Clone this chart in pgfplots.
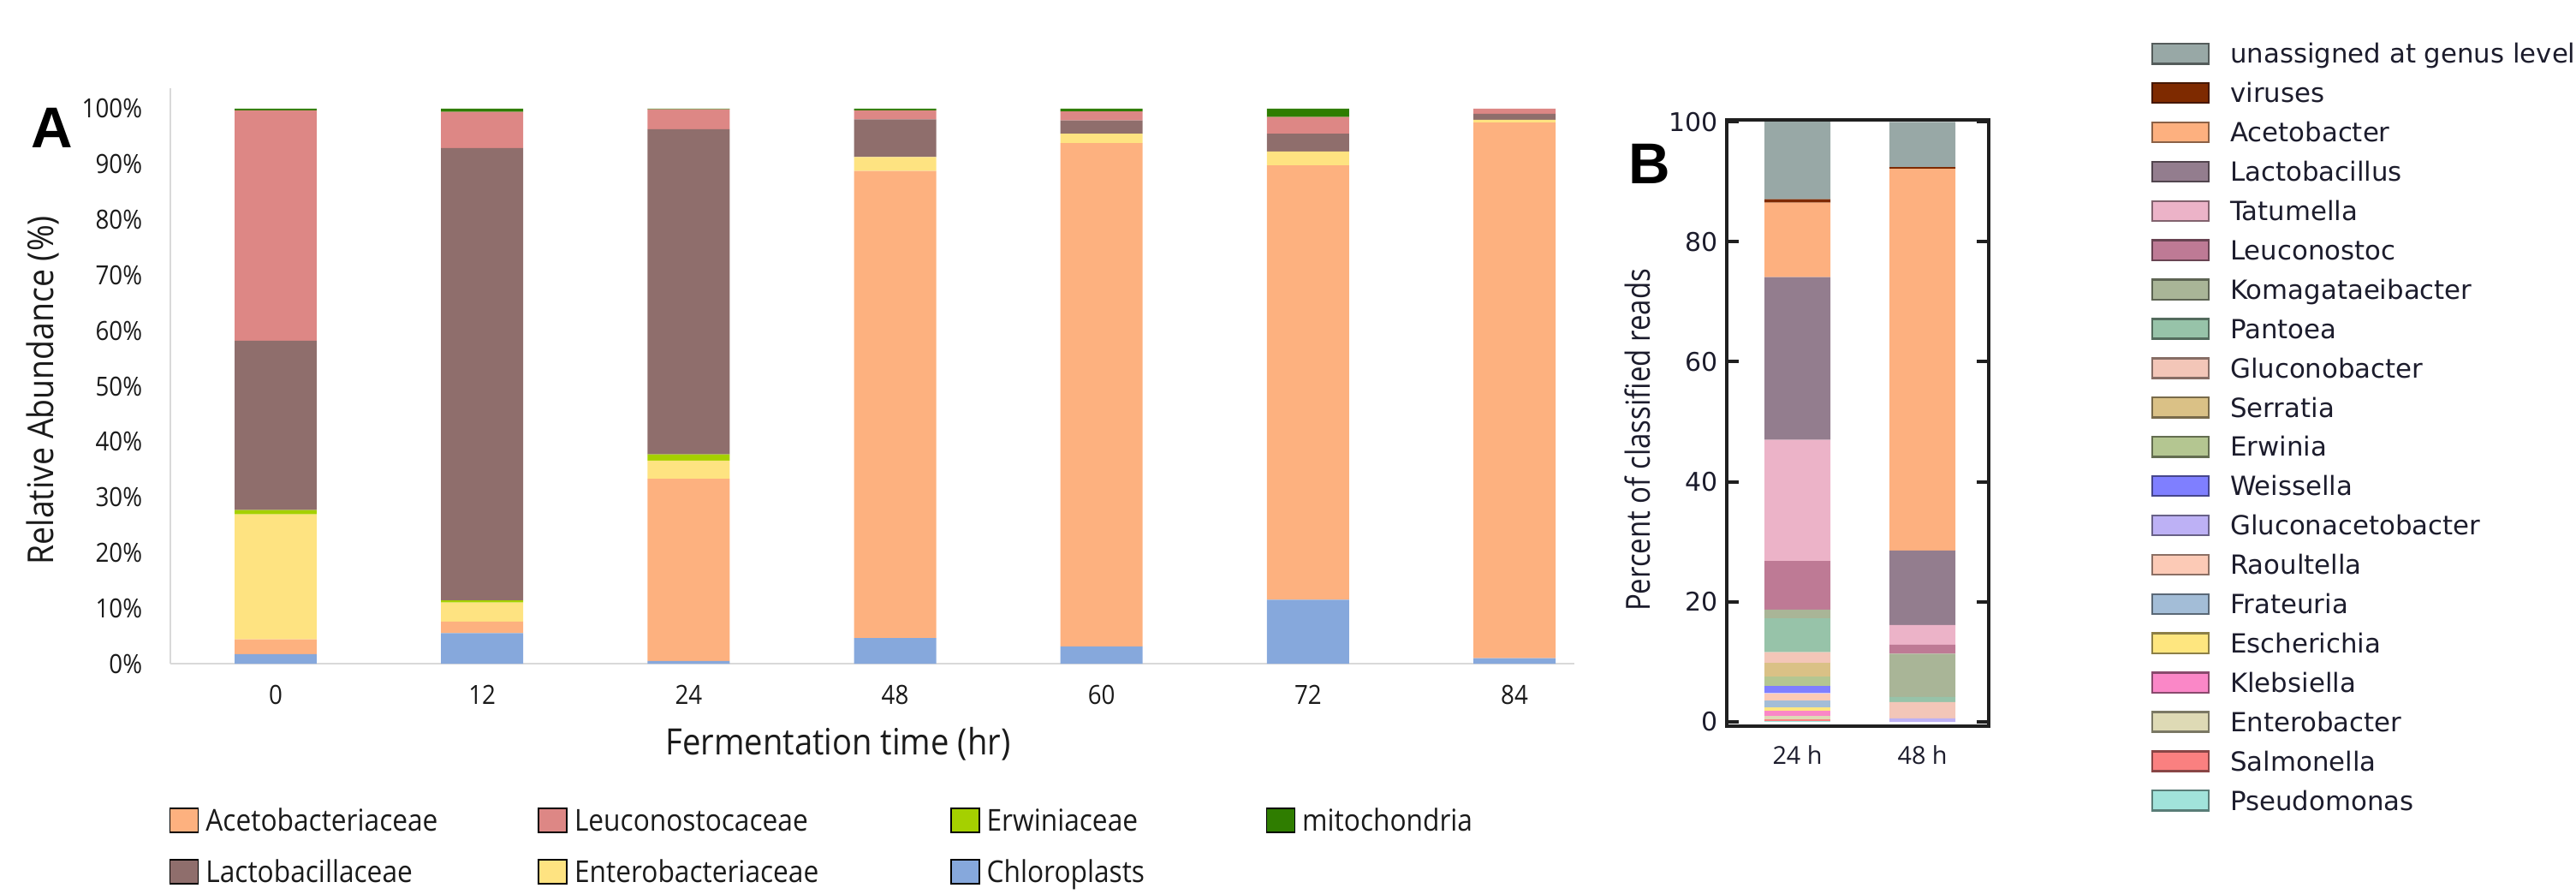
\documentclass[border=0pt]{standalone}
\usepackage{fontspec}
\usepackage{pgfplots}
\pgfplotsset{compat=1.18}
\setmainfont{Open Sans}
\newfontfamily\afont{Open Sans}[FakeStretch=0.9]
\newfontfamily\bbfont{DejaVu Sans}
\newfontfamily\labfont{Liberation Sans}
\newfontfamily\bylab{Open Sans}[FakeStretch=0.85]

% panel A colours
\definecolor{cAce}{HTML}{FDB17F}
\definecolor{cLac}{HTML}{8F6E6C}
\definecolor{cLeu}{HTML}{DD8785}
\definecolor{cEnt}{HTML}{FEE381}
\definecolor{cErw}{HTML}{A5D000}
\definecolor{cChl}{HTML}{86A8DC}
\definecolor{cMit}{HTML}{2F7D00}
% panel B colours
\definecolor{bUn}{HTML}{98A8A6}
\definecolor{bVir}{HTML}{7E2A00}
\definecolor{bAce}{HTML}{FDB07F}
\definecolor{bLac}{HTML}{937D8E}
\definecolor{bTat}{HTML}{ECB3C8}
\definecolor{bLeu}{HTML}{BE7A95}
\definecolor{bKom}{HTML}{A9B597}
\definecolor{bPan}{HTML}{97C3A9}
\definecolor{bGlu}{HTML}{F3C6B8}
\definecolor{bSer}{HTML}{DAC186}
\definecolor{bErw}{HTML}{B4C691}
\definecolor{bWei}{HTML}{7F7FFF}
\definecolor{bGla}{HTML}{BDB1F5}
\definecolor{bRao}{HTML}{FCCAB6}
\definecolor{bFra}{HTML}{A3BDD7}
\definecolor{bEsc}{HTML}{FEE67F}
\definecolor{bKle}{HTML}{FA87C7}
\definecolor{bEnB}{HTML}{DEDAB5}
\definecolor{bSal}{HTML}{FA8080}
\definecolor{bPse}{HTML}{A1E3DB}
\definecolor{atext}{HTML}{1A1A1A}
\definecolor{btext}{HTML}{1C1C2C}

\newcommand{\afontleg}{\afont\fontsize{8.8}{10}\selectfont}
\newcommand{\bfontleg}{\bbfont\fontsize{7.7}{9}\selectfont}

\begin{document}
\begin{tikzpicture}
\useasboundingbox (0pt,0pt) rectangle (752.25pt,260.75pt);

% ---------------- Panel A ----------------
\begin{axis}[
  at={(49.75pt,67pt)}, anchor=south west,
  scale only axis, width=410pt, height=168pt,
  ybar stacked, bar width=0.398,
  xmin=-0.51, xmax=6.29, ymin=0, ymax=103.7,
  axis x line*=bottom, axis y line*=left,
  axis line style={draw=black!15, line width=0.6pt, -},
  major tick length=0pt, tick style={draw=none},
  xtick={0,...,6}, xticklabels={0,12,24,48,60,72,84},
  ytick={0,10,...,100},
  yticklabel={\pgfmathprintnumber{\tick}\%},
  /pgf/number format/assume math mode=true,
  ticklabel style={font=\afont\fontsize{7.7}{9}\selectfont, text=atext},
  yticklabel style={xshift=-4.7pt},
  xticklabel style={yshift=-2.7pt},
  xlabel={Fermentation time (hr)},
  xlabel style={at={(axis description cs:0.4756,-0.140)}, anchor=center,
    font=\afont\fontsize{10.6}{12}\selectfont, text=atext},
  ylabel={Relative Abundance (\%)},
  ylabel style={at={(axis description cs:-0.0909,0.475)}, anchor=center,
    font=\afont\fontsize{10.4}{12}\selectfont, text=atext},
  legend columns=4,
  legend cell align=left,
  legend image code/.code={\fill[#1] (0pt,-3.5pt) rectangle (8.25pt,3.5pt);},
  legend style={at={(axis description cs:-0.0012,-0.2420)}, anchor=north west,
    draw=none, fill=none, inner sep=0pt, column sep=0pt, row sep=5.28pt,
    font=\afontleg, text=atext,
    nodes={font=\afontleg, text=atext, inner ysep=0pt, inner xsep=2pt,
      text height=8pt, text depth=1.72pt, anchor=west}},
]
\addplot[fill=cChl, draw=none, forget plot] coordinates {(0,1.7) (1,5.5) (2,0.5) (3,4.6) (4,3.1) (5,11.5) (6,1.0)};
\addplot[fill=cAce, draw=none, forget plot] coordinates {(0,2.7) (1,2.1) (2,32.8) (3,84.2) (4,90.7) (5,78.3) (6,96.5)};
\addplot[fill=cEnt, draw=none, forget plot] coordinates {(0,22.5) (1,3.4) (2,3.3) (3,2.5) (4,1.7) (5,2.5) (6,0.5)};
\addplot[fill=cErw, draw=none, forget plot] coordinates {(0,0.8) (1,0.4) (2,1.1) (3,0) (4,0) (5,0) (6,0)};
\addplot[fill=cLac, draw=none, forget plot] coordinates {(0,30.5) (1,81.5) (2,58.6) (3,6.8) (4,2.4) (5,3.2) (6,1.1)};
\addplot[fill=cLeu, draw=none, forget plot] coordinates {(0,41.5) (1,6.55) (2,3.6) (3,1.6) (4,1.6) (5,3.0) (6,0.9)};
\addplot[fill=cMit, draw=none, forget plot] coordinates {(0,0.3) (1,0.55) (2,0.1) (3,0.3) (4,0.5) (5,1.5) (6,0)};
\addlegendimage{fill=cAce}\addlegendentry{\makebox[95pt][l]{Acetobacteriaceae}}
\addlegendimage{fill=cLeu}\addlegendentry{\makebox[107.75pt][l]{Leuconostocaceae}}
\addlegendimage{fill=cErw}\addlegendentry{\makebox[79.5pt][l]{Erwiniaceae}}
\addlegendimage{fill=cMit}\addlegendentry{mitochondria}
\addlegendimage{fill=cLac}\addlegendentry{\makebox[95pt][l]{Lactobacillaceae}}
\addlegendimage{fill=cEnt}\addlegendentry{\makebox[107.75pt][l]{Enterobacteriaceae}}
\addlegendimage{fill=cChl}\addlegendentry{\makebox[79.5pt][l]{Chloroplasts}}
\end{axis}

% ---------------- Panel B ----------------
\begin{axis}[
  at={(504.25pt,48.75pt)}, anchor=south west,
  scale only axis, width=76.5pt, height=177pt,
  ybar stacked, bar width=0.527,
  xmin=-0.565, xmax=1.53, ymin=-0.71, ymax=100.3,
  axis line style={line width=1pt, draw=black!88},
  tick align=inside, ytick pos=both, major tick length=3.5pt,
  ytick style={line width=1pt, draw=black!88},
  xtick style={draw=none},
  xtick={0,1}, xticklabels={24 h,48 h},
  ytick={0,20,...,100},
  /pgf/number format/assume math mode=true,
  yticklabel style={font=\bbfont\fontsize{7.5}{9}\selectfont, text=btext, xshift=1pt},
  xticklabel style={font=\fontsize{7.2}{9}\selectfont, text=btext, yshift=-2pt},
  ylabel={Percent of classified reads},
  ylabel style={at={(axis description cs:-0.340,0.472)}, anchor=center,
    font=\bylab\fontsize{9.7}{11}\selectfont, text=btext},
  legend cell align=left,
  legend image code/.code={\draw[#1] (0pt,-2.9pt) rectangle (16.5pt,2.9pt);},
  legend style={at={(axis description cs:1.6176,1.1328)}, anchor=north west,
    draw=none, fill=none, inner sep=0pt, column sep=0pt, row sep=3.475pt,
    font=\bfontleg, text=btext,
    nodes={font=\bfontleg, text=btext, inner ysep=0pt, inner xsep=6pt,
      text height=6.8pt, text depth=1.2pt, anchor=west}},
]
\addplot[fill=bPse, draw=none, forget plot] coordinates {(0,0.15) (1,0)};
\addplot[fill=bSal, draw=none, forget plot] coordinates {(0,0.3) (1,0)};
\addplot[fill=bEnB, draw=none, forget plot] coordinates {(0,0.55) (1,0)};
\addplot[fill=bKle, draw=none, forget plot] coordinates {(0,0.8) (1,0)};
\addplot[fill=bEsc, draw=none, forget plot] coordinates {(0,0.65) (1,0)};
\addplot[fill=bFra, draw=none, forget plot] coordinates {(0,1.1) (1,0)};
\addplot[fill=bRao, draw=none, forget plot] coordinates {(0,1.15) (1,0)};
\addplot[fill=bGla, draw=none, forget plot] coordinates {(0,0.1) (1,0.6)};
\addplot[fill=bWei, draw=none, forget plot] coordinates {(0,1.25) (1,0)};
\addplot[fill=bErw, draw=none, forget plot] coordinates {(0,1.5) (1,0)};
\addplot[fill=bSer, draw=none, forget plot] coordinates {(0,2.25) (1,0)};
\addplot[fill=bGlu, draw=none, forget plot] coordinates {(0,1.8) (1,2.7)};
\addplot[fill=bPan, draw=none, forget plot] coordinates {(0,5.65) (1,0.85)};
\addplot[fill=bKom, draw=none, forget plot] coordinates {(0,1.45) (1,7.2)};
\addplot[fill=bLeu, draw=none, forget plot] coordinates {(0,8.1) (1,1.5)};
\addplot[fill=bTat, draw=none, forget plot] coordinates {(0,20.2) (1,3.3)};
\addplot[fill=bLac, draw=none, forget plot] coordinates {(0,27.1) (1,12.4)};
\addplot[fill=bAce, draw=none, forget plot] coordinates {(0,12.4) (1,63.6)};
\addplot[fill=bVir, draw=none, forget plot] coordinates {(0,0.6) (1,0.3)};
\addplot[fill=bUn, draw=none, forget plot] coordinates {(0,12.9) (1,7.5)};
\addlegendimage{fill=bUn, draw=bUn!55!black, line width=0.6pt}\addlegendentry{unassigned at genus level}
\addlegendimage{fill=bVir, draw=bVir!55!black, line width=0.6pt}\addlegendentry{viruses}
\addlegendimage{fill=bAce, draw=bAce!55!black, line width=0.6pt}\addlegendentry{Acetobacter}
\addlegendimage{fill=bLac, draw=bLac!55!black, line width=0.6pt}\addlegendentry{Lactobacillus}
\addlegendimage{fill=bTat, draw=bTat!55!black, line width=0.6pt}\addlegendentry{Tatumella}
\addlegendimage{fill=bLeu, draw=bLeu!55!black, line width=0.6pt}\addlegendentry{Leuconostoc}
\addlegendimage{fill=bKom, draw=bKom!55!black, line width=0.6pt}\addlegendentry{Komagataeibacter}
\addlegendimage{fill=bPan, draw=bPan!55!black, line width=0.6pt}\addlegendentry{Pantoea}
\addlegendimage{fill=bGlu, draw=bGlu!55!black, line width=0.6pt}\addlegendentry{Gluconobacter}
\addlegendimage{fill=bSer, draw=bSer!55!black, line width=0.6pt}\addlegendentry{Serratia}
\addlegendimage{fill=bErw, draw=bErw!55!black, line width=0.6pt}\addlegendentry{Erwinia}
\addlegendimage{fill=bWei, draw=bWei!55!black, line width=0.6pt}\addlegendentry{Weissella}
\addlegendimage{fill=bGla, draw=bGla!55!black, line width=0.6pt}\addlegendentry{Gluconacetobacter}
\addlegendimage{fill=bRao, draw=bRao!55!black, line width=0.6pt}\addlegendentry{Raoultella}
\addlegendimage{fill=bFra, draw=bFra!55!black, line width=0.6pt}\addlegendentry{Frateuria}
\addlegendimage{fill=bEsc, draw=bEsc!55!black, line width=0.6pt}\addlegendentry{Escherichia}
\addlegendimage{fill=bKle, draw=bKle!55!black, line width=0.6pt}\addlegendentry{Klebsiella}
\addlegendimage{fill=bEnB, draw=bEnB!55!black, line width=0.6pt}\addlegendentry{Enterobacter}
\addlegendimage{fill=bSal, draw=bSal!55!black, line width=0.6pt}\addlegendentry{Salmonella}
\addlegendimage{fill=bPse, draw=bPse!55!black, line width=0.6pt}\addlegendentry{Pseudomonas}
\end{axis}

% panel letters
\node[font=\labfont\bfseries\fontsize{16.8}{18}\selectfont] at (15.25pt,223.5pt) {A};
\node[font=\labfont\bfseries\fontsize{16.8}{18}\selectfont] at (481.75pt,213pt) {B};
\end{tikzpicture}
\end{document}
